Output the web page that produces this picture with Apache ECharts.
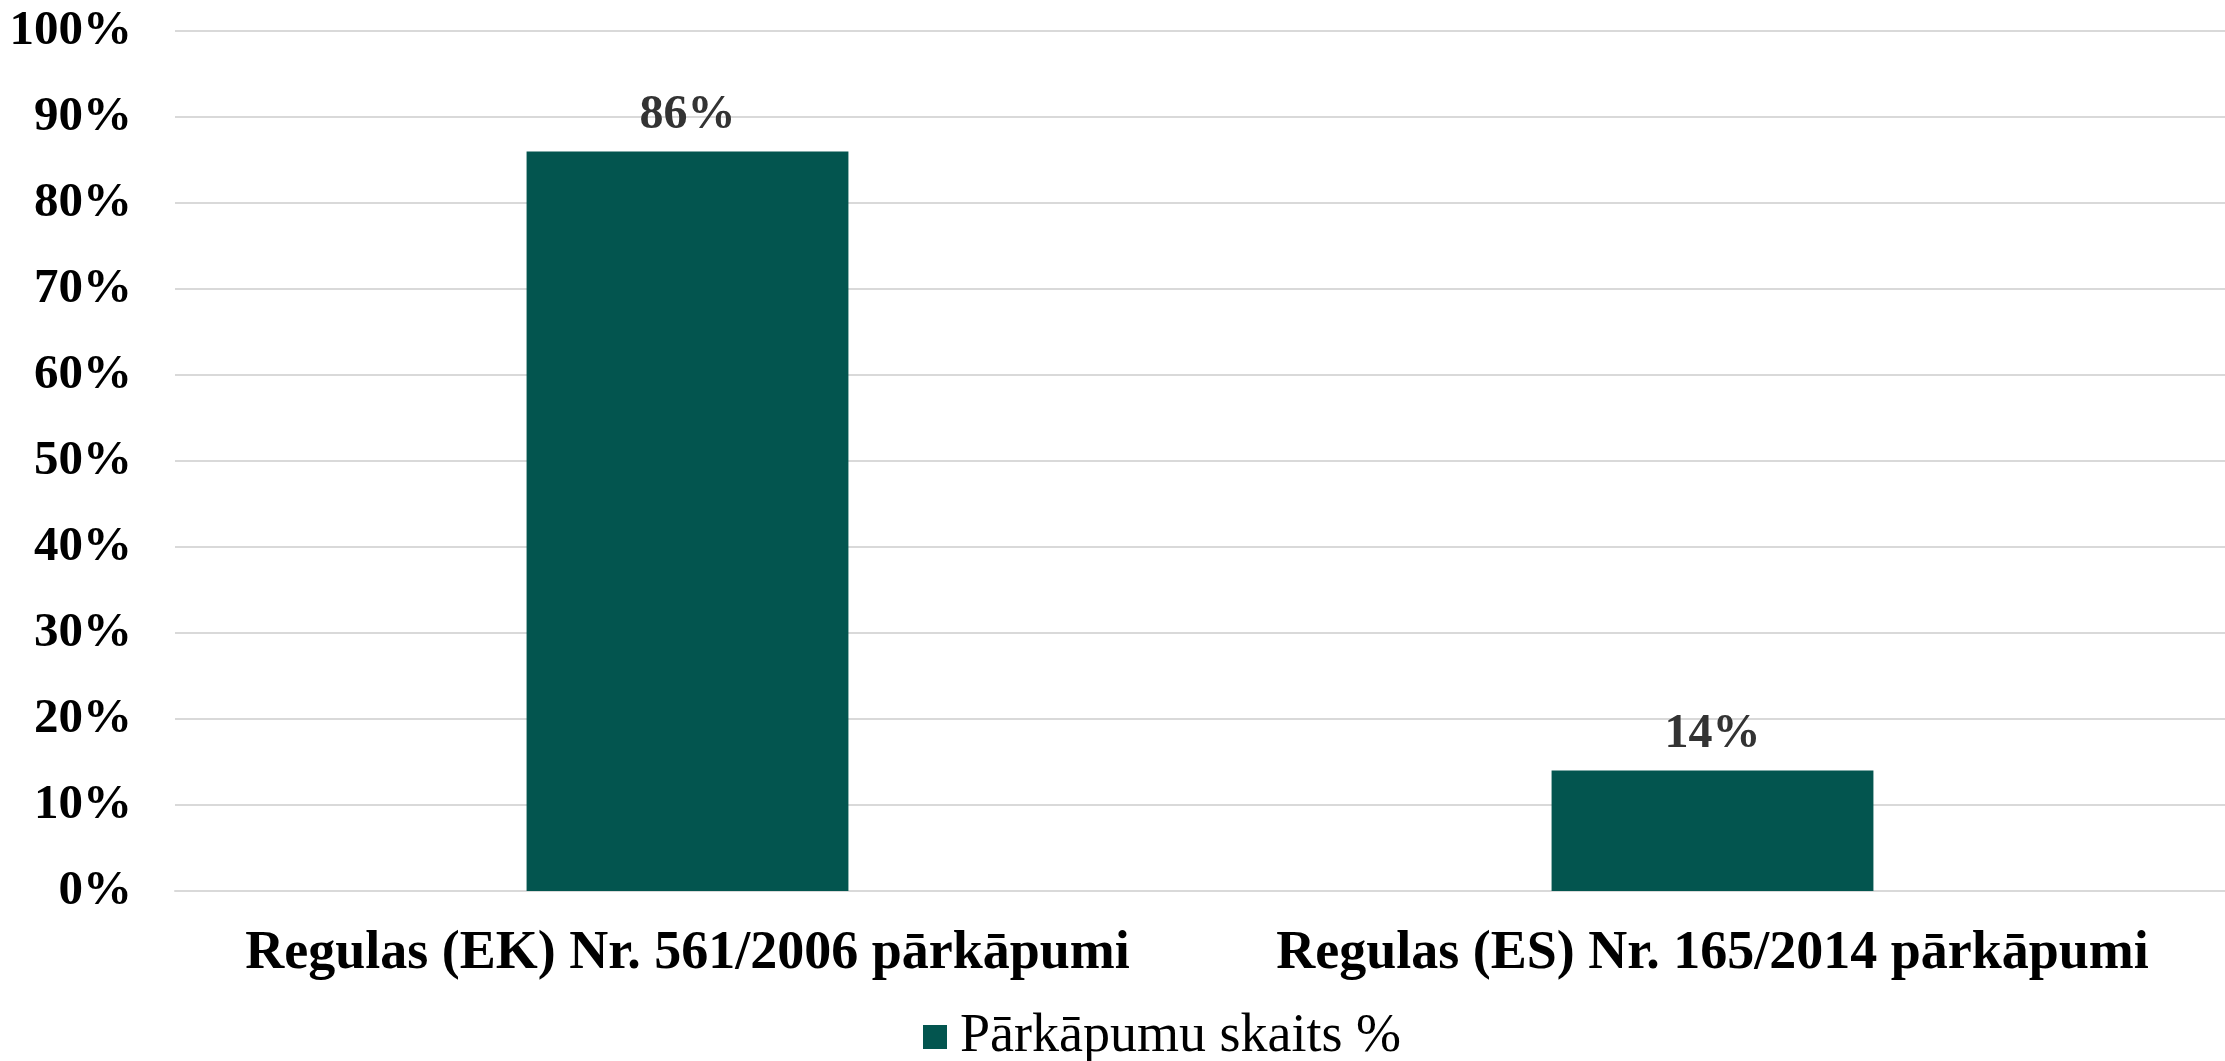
<!DOCTYPE html>
<html><head><meta charset="utf-8">
<script src="https://cdn.jsdelivr.net/npm/echarts@6/dist/echarts.min.js"></script>
<style>html,body{margin:0;padding:0;background:#fff}#c{width:2225px;height:1061px}</style>
</head><body><div id="c"></div>
<script>
const categories = ["Regulas (EK) Nr. 561/2006 pārkāpumi", "Regulas (ES) Nr. 165/2014 pārkāpumi"];
const seriesName = "Pārkāpumu skaits %";
const values = [86, 14];
const yTicks = [0, 10, 20, 30, 40, 50, 60, 70, 80, 90, 100];

const font = "'Liberation Serif', 'Times New Roman', serif";
const chart = echarts.init(document.getElementById('c'), null, {renderer: 'canvas'});
chart.setOption({
  animation: false,
  grid: {left: 175, right: 0, top: 31, bottom: 170, containLabel: false},
  legend: {
    bottom: -8, left: 918,
    itemWidth: 24, itemHeight: 24, itemGap: 12,
    icon: 'rect',
    textStyle: {fontFamily: font, fontSize: 54, color: '#000', padding: [0, 0, 0, 8]},
    data: [seriesName]
  },
  xAxis: {
    type: 'category', data: categories,
    axisLine: {show: true, lineStyle: {color: '#d9d9d9', width: 2}},
    axisTick: {show: false},
    axisLabel: {fontFamily: font, fontSize: 54, fontWeight: 'bold', color: '#000', margin: 36, interval: 0}
  },
  yAxis: {
    type: 'value', min: yTicks[0], max: yTicks[yTicks.length - 1], interval: 10,
    axisLine: {show: false}, axisTick: {show: false},
    splitLine: {lineStyle: {color: '#d9d9d9', width: 2}},
    axisLabel: {fontFamily: font, fontSize: 49, fontWeight: 'bold', color: '#000', margin: 43,
      formatter: v => v + '%'}
  },
  series: [{
    name: seriesName, type: 'bar', data: values,
    barWidth: '31.4%',
    itemStyle: {color: '#03554F'},
    label: {show: true, position: 'top', distance: 12, formatter: p => p.value + '%',
      fontFamily: font, fontSize: 48, fontWeight: 'bold', color: '#333'}
  }]
});
</script></body></html>
